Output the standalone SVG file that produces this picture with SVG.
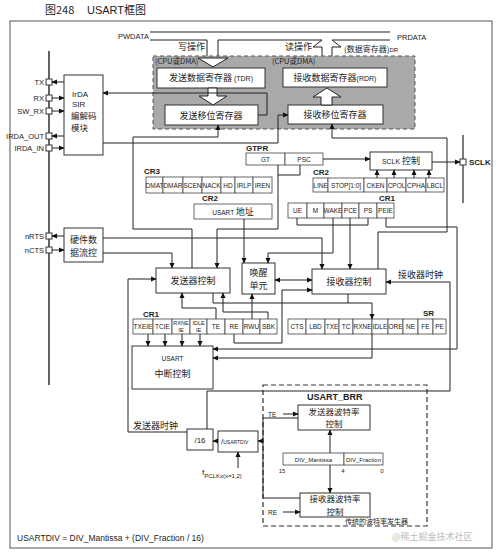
<svg xmlns="http://www.w3.org/2000/svg" width="500" height="557" viewBox="0 0 500 557">
<defs>
<marker id="ah" viewBox="0 0 10 10" refX="9" refY="5" markerWidth="6" markerHeight="6" markerUnits="userSpaceOnUse" orient="auto-start-reverse"><path d="M0,0.5 L10,5 L0,9.5 z" fill="#111"/></marker>
</defs>
<style>
.bx{fill:#fff;stroke:#333;stroke-width:1}
.rg{fill:#fff;stroke:#444;stroke-width:0.8}
.ln{fill:none;stroke:#222;stroke-width:1}
.ar{marker-end:url(#ah)}
.t{font-family:"Liberation Sans","Noto Sans CJK SC",sans-serif;fill:#222}
.c{font-family:"Noto Sans CJK SC",sans-serif;fill:#222}
.s6{font-size:6.5px}
.s9{font-size:9px}
.m{text-anchor:middle}
.e{text-anchor:end}
.b{font-weight:bold}
</style>
<rect width="500" height="557" fill="#fff"/>
<g id="title">
<text x="45" y="14" class="c" font-size="11">图248</text>
<text x="87" y="14" class="t" font-size="11">USART<tspan class="c">框图</tspan></text>
</g>
<rect x="10" y="21" width="482" height="527" fill="none" stroke="#555" stroke-width="1"/>

<g id="bus">
<polyline class="ln" points="150,32 390,32"/>
<polygon points="207,40 207,58 198,58 213,67 228,58 218,58 218,40" fill="#fff"/>
<polyline class="ln" points="150,40 207,40 207,58 198,58 213,67 228,58 218,58 218,40 322,40 313,47 322,47 322,68"/>
<polyline class="ln" points="332,68 332,47 341,47 332,40 390,40"/>
<text x="118" y="39" class="t" font-size="7.5">PWDATA</text>
<text x="397" y="40" class="t" font-size="7.5">PRDATA</text>
<text x="178" y="50" class="c s9">写操作</text>
<text x="285" y="50" class="c s9">读操作</text>
<text x="344" y="52" class="c" font-size="8">(数据寄存器)<tspan class="t" font-size="6">DR</tspan></text>
</g>

<g id="buffer-area">
<rect x="153" y="56" width="262" height="73" fill="#a9a9a9" stroke="#555" stroke-dasharray="4,3"/>
<text x="155" y="64" class="c" font-size="7.5">(CPU或DMA)</text>
<text x="272" y="64" class="c" font-size="7.5">(CPU或DMA)</text>
<polygon points="207,58 198,58 213,67 228,58 218,58" fill="#fff" stroke="#222"/>
</g>
<g id="tdr"><rect x="157" y="68" width="108" height="20" class="bx"/><text x="211" y="81" class="c s9 m">发送数据寄存器<tspan class="t" font-size="7"> (TDR)</tspan></text></g>
<g id="rdr"><rect x="283" y="68" width="104" height="19" class="bx"/><text x="335" y="81" class="c s9 m">接收数据寄存器<tspan class="t" font-size="7">(RDR)</tspan></text></g>
<g id="tsr"><rect x="165" y="105" width="93" height="20" class="bx"/><text x="211" y="118.5" class="c s9 m">发送移位寄存器</text></g>
<g id="rsr"><rect x="288" y="105" width="95" height="19" class="bx"/><text x="335" y="118" class="c s9 m">接收移位寄存器</text></g>
<g id="hollow-arrows">
<polygon points="208,88 208,96 199,96 213,105 227,96 217,96 217,88" fill="#fff" stroke="#222"/>
<polygon points="321,105 321,97 313,97 327,88 341,97 332,97 332,105" fill="#fff" stroke="#222"/>
</g>

<g id="pins">
<line x1="49" y1="51" x2="49" y2="385" stroke="#222" stroke-width="1.4"/>
<rect x="46" y="79" width="6" height="6" class="bx"/><text x="44" y="84.7" class="t e" font-size="7.5">TX</text>
<rect x="46" y="95" width="6" height="6" class="bx"/><text x="44" y="100.7" class="t e" font-size="7.5">RX</text>
<rect x="46" y="108" width="6" height="6" class="bx"/><text x="44" y="113.7" class="t e" font-size="7.5">SW_RX</text>
<rect x="46" y="133" width="6" height="6" class="bx"/><text x="44" y="138.7" class="t e" font-size="7.5">IRDA_OUT</text>
<rect x="46" y="145" width="6" height="6" class="bx"/><text x="44" y="150.7" class="t e" font-size="7.5">IRDA_IN</text>
<rect x="46" y="233" width="6" height="6" class="bx"/><text x="44" y="238.7" class="t e" font-size="7.5">nRTS</text>
<rect x="46" y="247" width="6" height="6" class="bx"/><text x="44" y="252.7" class="t e" font-size="7.5">nCTS</text>
</g>
<g id="sclk-pin">
<line x1="463" y1="135" x2="463" y2="203" stroke="#222" stroke-width="1.2"/>
<rect x="460" y="159" width="6" height="6" class="bx"/>
<text x="469" y="165" class="t b" font-size="8">SCLK</text>
</g>

<g id="irda"><rect x="64" y="75" width="39" height="80" class="bx"/>
<text x="72" y="97" class="t" font-size="8">IrDA</text>
<text x="72" y="107" class="t" font-size="8">SIR</text>
<text x="71" y="119" class="c" font-size="8.5">编解码</text>
<text x="71" y="131" class="c" font-size="8.5">模块</text></g>
<g id="hwflow"><rect x="64" y="228" width="39" height="34" class="bx"/>
<text x="83.5" y="243" class="c s9 m">硬件数</text>
<text x="83.5" y="256" class="c s9 m">据流控</text></g>

<g id="gtpr">
<text x="246" y="151" class="t b" font-size="8">GTPR</text>
<rect x="246" y="153" width="39" height="12" class="rg"/><text x="265.5" y="161.5" class="t s6 m">GT</text>
<rect x="285" y="153" width="38" height="12" class="rg"/><text x="304" y="161.5" class="t s6 m">PSC</text>
</g>
<g id="sclk-ctrl"><rect x="370" y="152" width="62" height="18" class="bx"/><text x="401" y="164" class="t m" font-size="7">SCLK <tspan class="c s9">控制</tspan></text></g>

<g id="cr2-top">
<text x="313" y="175" class="t b" font-size="8">CR2</text>
<rect x="313" y="178" width="15" height="14" class="rg"/><text x="320.5" y="187.5" class="t s6 m">LINE</text>
<rect x="328" y="178" width="36" height="14" class="rg"/><text x="346" y="187.5" class="t s6 m">STOP[1:0]</text>
<rect x="364" y="178" width="23" height="14" class="rg"/><text x="375.5" y="187.5" class="t s6 m">CKEN</text>
<rect x="387" y="178" width="19" height="14" class="rg"/><text x="396.5" y="187.5" class="t s6 m">CPOL</text>
<rect x="406" y="178" width="20" height="14" class="rg"/><text x="416" y="187.5" class="t s6 m">CPHA</text>
<rect x="426" y="178" width="18" height="14" class="rg"/><text x="435" y="187.5" class="t s6 m">LBCL</text>
</g>

<g id="cr3">
<text x="144" y="174" class="t b" font-size="8">CR3</text>
<rect x="146" y="177" width="17" height="16" class="rg"/><text x="154.5" y="187.5" class="t s6 m">DMAT</text>
<rect x="163" y="177" width="20" height="16" class="rg"/><text x="173" y="187.5" class="t s6 m">DMAR</text>
<rect x="183" y="177" width="19" height="16" class="rg"/><text x="192.5" y="187.5" class="t s6 m">SCEN</text>
<rect x="202" y="177" width="19" height="16" class="rg"/><text x="211.5" y="187.5" class="t s6 m">NACK</text>
<rect x="221" y="177" width="14" height="16" class="rg"/><text x="228" y="187.5" class="t s6 m">HD</text>
<rect x="235" y="177" width="18" height="16" class="rg"/><text x="244" y="187.5" class="t s6 m">IRLP</text>
<rect x="253" y="177" width="19" height="16" class="rg"/><text x="262.5" y="187.5" class="t s6 m">IREN</text>
</g>

<g id="cr2-addr">
<text x="202" y="201" class="t b" font-size="8">CR2</text>
<rect x="194" y="204" width="78" height="15" class="rg"/><text x="233" y="215" class="t s6 m">USART <tspan class="c s9">地址</tspan></text>
</g>

<g id="cr1-top">
<text x="379" y="201" class="t b" font-size="8">CR1</text>
<rect x="288" y="203" width="19" height="15" class="rg"/><text x="297.5" y="212.5" class="t s6 m">UE</text>
<rect x="307" y="203" width="17" height="15" class="rg"/><text x="315.5" y="212.5" class="t s6 m">M</text>
<rect x="324" y="203" width="18" height="15" class="rg"/><text x="333" y="212.5" class="t s6 m">WAKE</text>
<rect x="342" y="203" width="17" height="15" class="rg"/><text x="350.5" y="212.5" class="t s6 m">PCE</text>
<rect x="359" y="203" width="18" height="15" class="rg"/><text x="368" y="212.5" class="t s6 m">PS</text>
<rect x="377" y="203" width="17" height="15" class="rg"/><text x="385.5" y="212.5" class="t s6 m">PEIE</text>
</g>

<g id="tx-ctrl"><rect x="156" y="268" width="74" height="25" class="bx"/><text x="193" y="284" class="c s9 m">发送器控制</text></g>
<g id="wakeup"><rect x="242" y="263" width="33" height="31" class="bx"/><text x="258.5" y="276" class="c s9 m">唤醒</text><text x="258.5" y="289" class="c s9 m">单元</text></g>
<g id="rx-ctrl"><rect x="312" y="269" width="74" height="25" class="bx"/><text x="349" y="285" class="c s9 m">接收器控制</text></g>
<text x="398" y="278" class="c s9">接收器时钟</text>

<g id="cr1-bottom">
<text x="143" y="317" class="t b" font-size="8">CR1</text>
<rect x="133" y="319" width="20" height="15" class="rg"/><text x="143" y="328.5" class="t s6 m">TXEIE</text>
<rect x="153" y="319" width="19" height="15" class="rg"/><text x="162.5" y="328.5" class="t s6 m">TCIE</text>
<rect x="172" y="319" width="18" height="15" class="rg"/><text x="181" y="325" class="t m" font-size="5.5">RXNE</text><text x="181" y="332" class="t m" font-size="5.5">IE</text>
<rect x="190" y="319" width="17" height="15" class="rg"/><text x="198.5" y="325" class="t m" font-size="5.5">IDLE</text><text x="198.5" y="332" class="t m" font-size="5.5">IE</text>
<rect x="207" y="319" width="18" height="15" class="rg"/><text x="216" y="328.5" class="t s6 m">TE</text>
<rect x="225" y="319" width="18" height="15" class="rg"/><text x="234" y="328.5" class="t s6 m">RE</text>
<rect x="243" y="319" width="17" height="15" class="rg"/><text x="251.5" y="328.5" class="t s6 m">RWU</text>
<rect x="260" y="319" width="17" height="15" class="rg"/><text x="268.5" y="328.5" class="t s6 m">SBK</text>
</g>

<g id="sr">
<text x="423" y="316" class="t b" font-size="8">SR</text>
<rect x="288" y="319" width="18" height="15" class="rg"/><text x="297" y="328.5" class="t s6 m">CTS</text>
<rect x="306" y="319" width="19" height="15" class="rg"/><text x="315.5" y="328.5" class="t s6 m">LBD</text>
<rect x="325" y="319" width="14" height="15" class="rg"/><text x="332" y="328.5" class="t s6 m">TXE</text>
<rect x="339" y="319" width="14" height="15" class="rg"/><text x="346" y="328.5" class="t s6 m">TC</text>
<rect x="353" y="319" width="19" height="15" class="rg"/><text x="362.5" y="328.5" class="t s6 m">RXNE</text>
<rect x="372" y="319" width="16" height="15" class="rg"/><text x="380" y="328.5" class="t s6 m">IDLE</text>
<rect x="388" y="319" width="15" height="15" class="rg"/><text x="395.5" y="328.5" class="t s6 m">ORE</text>
<rect x="403" y="319" width="15" height="15" class="rg"/><text x="410.5" y="328.5" class="t s6 m">NE</text>
<rect x="418" y="319" width="15" height="15" class="rg"/><text x="425.5" y="328.5" class="t s6 m">FE</text>
<rect x="433" y="319" width="13" height="15" class="rg"/><text x="439.5" y="328.5" class="t s6 m">PE</text>
</g>

<g id="irq"><rect x="132" y="346" width="81" height="43" class="bx"/><text x="172.5" y="361" class="t s6 m">USART</text><text x="172.5" y="377" class="c s9 m">中断控制</text></g>

<g id="div16"><rect x="187" y="429" width="26" height="21" class="bx"/><text x="200" y="442.5" class="t m" font-size="8">/16</text></g>
<g id="usartdiv"><rect x="218" y="431" width="40" height="21" class="bx"/><text x="221" y="444" class="t" font-size="8">/<tspan font-size="5">USARTDIV</tspan></text></g>
<text x="133" y="429" class="c s9">发送器时钟</text>
<text x="202" y="475" class="t" font-size="8">f<tspan font-size="6" dy="2.5">PCLKx(x=1,2)</tspan></text>

<g id="brr">
<rect x="263" y="385" width="164" height="141" fill="none" stroke="#333" stroke-width="1.2" stroke-dasharray="5,3"/>
<text x="307" y="400" class="t b" font-size="9">USART_BRR</text>
<text x="268" y="417" class="t s6">TE</text>
<text x="268" y="515" class="t s6">RE</text>
<text x="345" y="524" class="c" font-size="7">传统的波特率发生器</text>
</g>
<g id="tx-baud"><rect x="298" y="405" width="72" height="25" class="bx"/><text x="334" y="414.5" class="c m" font-size="8.5">发送器波特率</text><text x="334" y="427" class="c m" font-size="8.5">控制</text></g>
<g id="rx-baud"><rect x="300" y="493" width="70" height="24" class="bx"/><text x="335" y="502" class="c m" font-size="8.5">接收器波特率</text><text x="335" y="514.5" class="c m" font-size="8.5">控制</text></g>
<g id="brr-reg">
<rect x="283" y="453" width="61" height="12" class="rg"/><text x="313.5" y="461.5" class="t m" font-size="6">DIV_Mantissa</text>
<rect x="344" y="453" width="39" height="12" class="rg"/><text x="363.5" y="461.5" class="t m" font-size="6">DIV_Fraction</text>
<text x="282" y="473" class="t m" font-size="6">15</text>
<text x="343" y="473" class="t m" font-size="6">4</text>
<text x="382" y="473" class="t m" font-size="6">0</text>
</g>

<g id="connectors">
<path class="ln ar" d="M258,115 H267 V93 H103"/>
<path class="ln ar" d="M103,143 H278 V115 H288"/>
<path class="ln ar" d="M192,268 V229 H133 V137 H218 V125"/>
<path class="ln ar" d="M278,165 V229 H217 V268"/>
<path class="ln" d="M300,165 V175 H278"/>
<path class="ln ar" d="M378,269 V232 H447 V138 H332 V124"/>
<path class="ln ar" d="M323,159 H370"/>
<path class="ln ar" d="M432,162 H460"/>
<path class="ln ar" d="M377,178 V170"/>
<path class="ln ar" d="M394,178 V170"/>
<path class="ln ar" d="M414,178 V170"/>
<path class="ln ar" d="M429,178 V170"/>
<path class="ln ar" d="M64,82 H52"/>
<path class="ln ar" d="M52,98 H64"/>
<path class="ln ar" d="M52,111 H64"/>
<path class="ln ar" d="M64,136 H52"/>
<path class="ln ar" d="M52,148 H64"/>
<path class="ln ar" d="M64,236 H52"/>
<path class="ln ar" d="M52,250 H64"/>
<path class="ln ar" d="M103,238 H322 V269"/>
<path class="ln ar" d="M103,253 H172 V268"/>
<path class="ln ar" d="M244,219 V263"/>
<path class="ln ar" d="M333,218 V253 H268 V263"/>
<path class="ln ar" d="M350,218 V269"/>
<path class="ln" d="M297,218 V225 H368 V218"/>
<path class="ln ar" d="M386,218 V227 H457 V349 H213"/>
<path class="ln ar" d="M275,280 H312" marker-start="url(#ah)"/>
<path class="ln ar" d="M234,334 V343 H282 V290 H312"/>
<path class="ln ar" d="M216,319 V308 H182 V293"/>
<path class="ln ar" d="M268,319 V312 H223 V293"/>
<path class="ln ar" d="M252,319 V294"/>
<path class="ln ar" d="M213,293 V303 H372 V319"/>
<path class="ln" d="M348,294 V303"/>
<path class="ln ar" d="M372,334 V358 H213"/>
<path class="ln ar" d="M148,334 V346"/>
<path class="ln ar" d="M165,334 V346"/>
<path class="ln ar" d="M182,334 V346"/>
<path class="ln ar" d="M200,334 V346"/>
<path class="ln ar" d="M207,429 V391 H450 V282 H386"/>
<path class="ln ar" d="M187,432 H128 V279 H156"/>
<path class="ln ar" d="M218,441 H213"/>
<path class="ln" d="M298,418 H263 V498 H300"/>
<path class="ln ar" d="M263,441 H258"/>
<path class="ln ar" d="M238,468 V452"/>
<path class="ln ar" d="M283,414 H298"/>
<path class="ln ar" d="M283,512 H300"/>
<path class="ln ar" d="M330,453 V430" stroke-width="1.6"/>
<path class="ln ar" d="M330,465 V493"/>
</g>

<text x="17" y="541" class="t" font-size="8.5">USARTDIV = DIV_Mantissa + (DIV_Fraction / 16)</text>
<text x="392" y="540" class="c" font-size="9" fill="#bbb" style="fill:#bbb">@稀土掘金技术社区</text>
</svg>
